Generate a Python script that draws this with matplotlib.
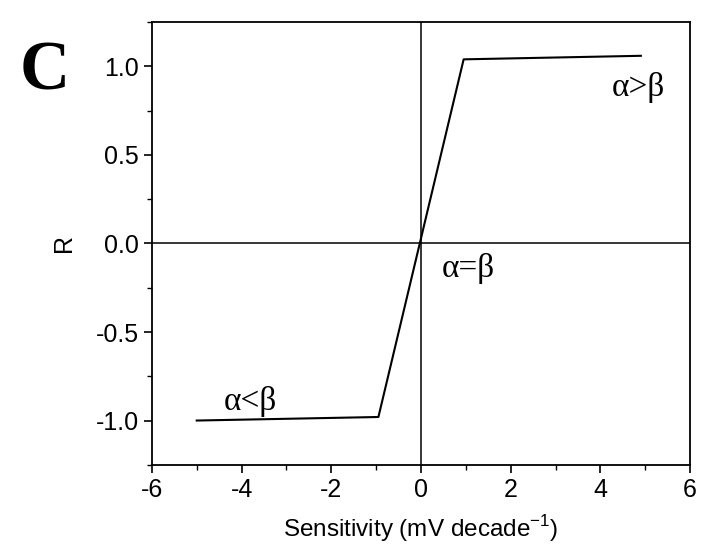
import matplotlib.pyplot as plt
from matplotlib.ticker import MultipleLocator

# response curve R vs sensitivity
sens = [-5.0, -0.95, 0.95, 4.9]
r_val = [-1.0, -0.98, 1.04, 1.06]

labels = ["α>β", "α=β", "α<β"]
label_x = [4.85, 1.05, -3.8]
label_y = [0.88, -0.14, -0.89]

plt.rcParams['font.family'] = ['Liberation Sans', 'DejaVu Sans']
plt.rcParams['axes.unicode_minus'] = False

fig = plt.figure(figsize=(7.13, 5.54), dpi=100)
ax = fig.add_axes([0.213, 0.161, 0.755, 0.799])

ax.plot(sens, r_val, color='black', lw=1.5)
ax.axhline(0, color='black', lw=1.1)
ax.axvline(0, color='black', lw=1.1)

for t, x, y in zip(labels, label_x, label_y):
    ax.text(x, y, t, fontsize=24, ha='center', va='center',
            family=['Liberation Serif', 'DejaVu Serif'])

ax.set_xlim(-6, 6)
ax.set_ylim(-1.25, 1.25)
ax.xaxis.set_major_locator(MultipleLocator(2))
ax.xaxis.set_minor_locator(MultipleLocator(1))
ax.yaxis.set_major_locator(MultipleLocator(0.5))
ax.yaxis.set_minor_locator(MultipleLocator(0.25))
ax.tick_params(which='both', direction='out', top=False, right=False, labelsize=18)
ax.tick_params(which='major', length=6, width=1.2)
ax.tick_params(which='minor', length=3.5, width=1)
for s in ax.spines.values():
    s.set_linewidth(1.3)

ax.set_xlabel('Sensitivity (mV decade$^{\\mathregular{-1}}$)', fontsize=17.5, labelpad=8)
ax.set_ylabel('R', fontsize=18, labelpad=14)

fig.text(0.063, 0.87, 'C', fontsize=50, fontweight='bold', ha='center', va='center',
         family=['Liberation Serif', 'DejaVu Serif'])

fig.savefig('out.png', dpi=100)
